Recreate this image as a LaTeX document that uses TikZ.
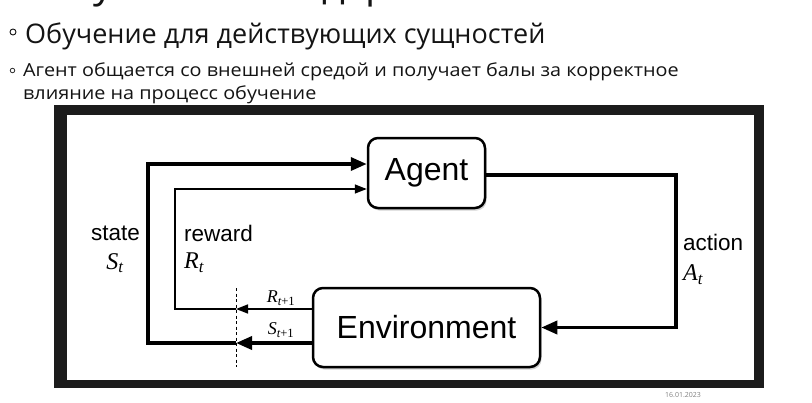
\documentclass[tikz,border=0pt]{standalone}
\usepackage{fontspec}
\setmainfont{Open Sans}
\newfontfamily\diagfont{Liberation Sans}
\newfontfamily\varfont{Liberation Serif}
\usepackage{xcolor}
\usetikzlibrary{arrows.meta,shadows}

\definecolor{framegray}{RGB}{28,28,28}
\definecolor{slidetext}{RGB}{20,20,20}
\newcommand{\ivar}[2]{{\varfont\itshape #1}\textsubscript{\varfont\itshape #2}}
\newcommand{\inext}[1]{{\varfont\itshape #1}\textsubscript{\varfont{\itshape t}+1}}

\begin{document}
\begin{tikzpicture}[x=1pt,y=-1pt]
    \tikzstyle{every node}+=[inner sep=0pt]
    \tikzstyle{blockbox}=[draw=black, line width=2.5pt, rounded corners=10pt, fill=white,
        drop shadow={opacity=0.35, shadow xshift=1.5pt, shadow yshift=-2.5pt},
        font=\diagfont\fontsize{32}{36}\selectfont]
    \tikzstyle{wordlbl}=[font=\diagfont\fontsize{22.5}{26}\selectfont]
    \tikzstyle{varlbl}=[font=\fontsize{24}{28}\selectfont]
    \tikzstyle{smallvar}=[font=\fontsize{18}{22}\selectfont]
    \tikzstyle{thickline}=[line width=3.5pt]
    \tikzstyle{thinline}=[line width=1.5pt]
    \tikzstyle{bigtip}=[-{Triangle[length=16pt,width=13pt]}]
    \tikzstyle{smalltip}=[-{Triangle[length=12pt,width=9pt]}]
    \tikzstyle{itemtext}=[anchor=base west, text=slidetext, font=\fontsize{18}{22}\selectfont]
    \useasboundingbox (0,0) rectangle (812,402);
    \fill[white] (0,0) rectangle (812,402);
    % slide text
    \node[anchor=base west, text=slidetext, font=\fontsize{40}{44}\selectfont] (title) at (38,-3) {Обучение с подкреплением};
    \node[circle, draw=slidetext, line width=0.9pt, minimum size=6pt] (dot1) at (13,32) {};
    \node[anchor=base west, text=slidetext, font=\fontsize{27}{32}\selectfont] (item1) at (25,43) {Обучение для действующих сущностей};
    \node[circle, draw=slidetext, line width=0.7pt, minimum size=4.5pt] (dot2) at (12.5,70.5) {};
    \node[itemtext] (item2a) at (23,76) {\scalebox{1.10}[1]{Агент общается со внешней средой и получает балы за корректное}};
    \node[itemtext] (item2b) at (23,99) {\scalebox{1.10}[1]{влияние на процесс обучение}};
    % picture frame
    \fill[framegray] (54,105) rectangle (764,388);
    \fill[white] (67,115) rectangle (754,380);
    % blocks
    \node[blockbox, minimum width=117pt, minimum height=70pt] (agent) at (426.5,173) {Agent};
    \node[blockbox, minimum width=227pt, minimum height=79pt] (env) at (426.5,327.5) {Environment};
    % time cut
    \coordinate (cuttop) at (236,288);
    \coordinate (cutbot) at (236,367);
    \draw[line width=0.8pt, dash pattern=on 3pt off 2.5pt] (cuttop) -- (cutbot);
    \coordinate (scut) at (236,343);
    \coordinate (rcut) at (236,309);
    \coordinate (sleft) at (148,343);
    \coordinate (rleft) at (175,309);
    \coordinate (aright) at (676,175);
    % connectors
    \draw[thickline, bigtip] ([yshift=-15.5pt]env.west) -- (scut);
    \draw[thickline, bigtip] (scut) -- (sleft) |- ([yshift=9pt]agent.west);
    \draw[thinline, smalltip] ([yshift=18.5pt]env.west) -- (rcut);
    \draw[thinline, smalltip] (rcut) -- (rleft) |- ([yshift=-16pt]agent.west);
    \draw[thickline, bigtip] ([yshift=-2pt]agent.east) -- (aright) |- (env.east);
    % labels
    \node[wordlbl] (statelbl) at (115.5,233) {state};
    \node[varlbl] (stvar) at (115,263) {\ivar{S}{t}};
    \node[wordlbl] (rewardlbl) at (218.5,233) {reward};
    \node[varlbl, anchor=west] (rtvar) at (184,263) {\ivar{R}{t}};
    \node[wordlbl, anchor=west] (actionlbl) at (683,242) {action};
    \node[varlbl, anchor=west] (atvar) at (683,275) {\ivar{A}{t}};
    \node[smallvar] (rnext) at (281,298) {\inext{R}};
    \node[smallvar] (snext) at (281,330) {\inext{S}};
    \node[text=gray, font=\fontsize{7}{8}\selectfont] (date) at (683,395) {16.01.2023};
\end{tikzpicture}
\end{document}
